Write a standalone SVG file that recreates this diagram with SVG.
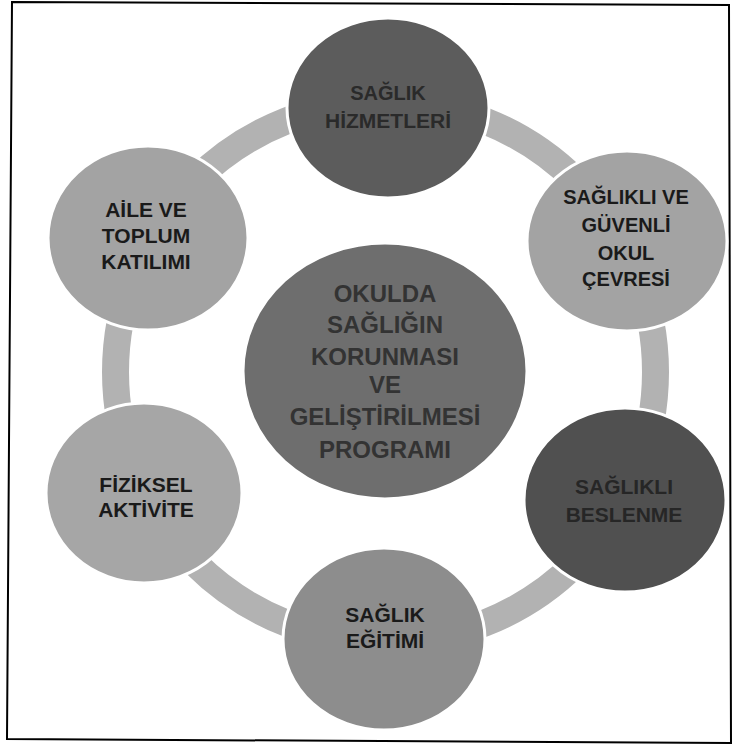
<svg xmlns="http://www.w3.org/2000/svg" width="734" height="744" viewBox="0 0 734 744">
<style>
.t{font-family:"Liberation Sans",Arial,sans-serif;font-weight:bold;text-anchor:middle;fill:#1a1a1a}
.n{stroke:#ffffff;stroke-width:3}
</style>
<rect width="734" height="744" fill="#ffffff"/>
<polygon points="12,2 729,5 731,743 7,739" fill="none" stroke="#000" stroke-width="2"/>
<g id="connectors">
<circle cx="385.5" cy="372" r="270" fill="none" stroke="#b2b2b2" stroke-width="27"/>
</g>
<g id="center">
<ellipse class="n" cx="385" cy="371" rx="142" ry="128" fill="#6e6e6e"/>
<text class="t" style="fill:#333" font-size="24" x="385" y="302">OKULDA</text>
<text class="t" style="fill:#333" font-size="24" x="385" y="333">SAĞLIĞIN</text>
<text class="t" style="fill:#333" font-size="24" x="385" y="365">KORUNMASI</text>
<text class="t" style="fill:#333" font-size="24" x="385" y="393">VE</text>
<text class="t" style="fill:#333" font-size="24" x="385" y="425">GELİŞTİRİLMESİ</text>
<text class="t" style="fill:#333" font-size="24" x="385" y="458">PROGRAMI</text>
</g>
<g id="n-top">
<ellipse class="n" cx="388" cy="108" rx="101" ry="90" fill="#5c5c5c"/>
<text class="t" style="fill:#2a2a2a" font-size="20" x="388" y="100">SAĞLIK</text>
<text class="t" style="fill:#2a2a2a" font-size="21" x="388" y="128">HİZMETLERİ</text>
</g>
<g id="n-upper-right">
<ellipse class="n" cx="627" cy="241" rx="100" ry="90" fill="#a3a3a3"/>
<text class="t" font-size="20" x="626" y="204">SAĞLIKLI VE</text>
<text class="t" font-size="20" x="626" y="232">GÜVENLİ</text>
<text class="t" font-size="20" x="626" y="260">OKUL</text>
<text class="t" font-size="20" x="626" y="286">ÇEVRESİ</text>
</g>
<g id="n-upper-left">
<ellipse class="n" cx="148" cy="238" rx="100" ry="92" fill="#a3a3a3"/>
<text class="t" font-size="21" x="146" y="217">AİLE VE</text>
<text class="t" font-size="21" x="146" y="243">TOPLUM</text>
<text class="t" font-size="21" x="146" y="269">KATILIMI</text>
</g>
<g id="n-lower-left">
<ellipse class="n" cx="144" cy="493" rx="98" ry="90" fill="#a6a6a6"/>
<text class="t" font-size="21" x="146" y="492">FİZİKSEL</text>
<text class="t" font-size="21" x="146" y="517">AKTİVİTE</text>
</g>
<g id="n-lower-right">
<ellipse class="n" cx="625" cy="500" rx="101" ry="92" fill="#505050"/>
<text class="t" style="fill:#262626" font-size="21" x="624" y="494">SAĞLIKLI</text>
<text class="t" style="fill:#262626" font-size="21" x="624" y="522">BESLENME</text>
</g>
<g id="n-bottom">
<ellipse class="n" cx="384" cy="639" rx="101" ry="91" fill="#8d8d8d"/>
<text class="t" font-size="21" x="385" y="622">SAĞLIK</text>
<text class="t" font-size="21" x="385" y="648">EĞİTİMİ</text>
</g>
</svg>
